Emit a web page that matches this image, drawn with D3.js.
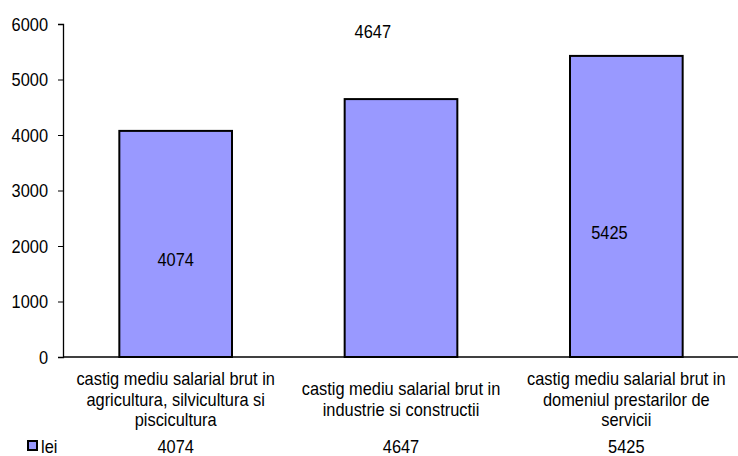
<!DOCTYPE html>
<html>
<head>
<meta charset="utf-8">
<script src="https://cdn.jsdelivr.net/npm/d3@7"></script>
<style>
  body { margin: 0; background: #fff; }
  text { font-family: "Liberation Sans", Arial, sans-serif; font-size: 16.4px; fill: #000; }
</style>
</head>
<body>
<svg id="chart" width="738" height="456"></svg>
<script>
const categories = [
  ["castig mediu salarial brut in", "agricultura, silvicultura si", "piscicultura"],
  ["castig mediu salarial brut in", "industrie si constructii"],
  ["castig mediu salarial brut in", "domeniul prestarilor de", "servicii"]
];
const values = [4074, 4647, 5425];
const seriesName = "lei";
const yTicks = [0, 1000, 2000, 3000, 4000, 5000, 6000];

// where the data labels sit in the original (value units / fraction of band step)
const labelAt = [
  { v: 1766, dx: 0 },
  { v: 5874, dx: -0.125 },
  { v: 2252, dx: -0.075 }
];

const stretch = 1.13; // original text is drawn a bit taller than normal
const svg = d3.select("#chart");
const x0 = 63, x1 = 739, yTop = 24, yBottom = 357;

const x = d3.scaleBand()
  .domain(d3.range(values.length))
  .range([x0, x1])
  .paddingInner(0.5)
  .paddingOuter(0.25);

const y = d3.scaleLinear()
  .domain([0, 6000])
  .range([yBottom, yTop]);

// put a text centred on (px, py), stretched vertically
const label = (g, px, py, str, anchor) => g.append("text")
  .attr("transform", `translate(${px},${py}) scale(1,${stretch})`)
  .attr("dy", "0.36em")
  .attr("text-anchor", anchor || "middle")
  .text(str);

// y axis
const yAxis = d3.axisLeft(y).tickValues(yTicks).tickSize(5).tickFormat("");
const gy = svg.append("g")
  .attr("transform", `translate(${x0},0)`)
  .call(yAxis);
gy.select(".domain").attr("stroke", "#000").attr("stroke-width", 1.3);
gy.selectAll(".tick line").attr("stroke", "#000");
const gyl = svg.append("g");
yTicks.forEach(t => label(gyl, x0 - 15, y(t), d3.format("d")(t), "end"));

// bars
svg.append("g").selectAll("rect")
  .data(values)
  .join("rect")
  .attr("x", (d, i) => x(i))
  .attr("y", d => y(d))
  .attr("width", x.bandwidth())
  .attr("height", d => y(0) - y(d))
  .attr("fill", "#9999FF")
  .attr("stroke", "#000")
  .attr("stroke-width", 2);

// x axis line
svg.append("line")
  .attr("x1", x0).attr("x2", 738)
  .attr("y1", yBottom).attr("y2", yBottom)
  .attr("stroke", "#000").attr("stroke-width", 1.3);

// data labels
const step = x.step();
const gl = svg.append("g");
values.forEach((d, i) => {
  label(gl, x(i) + x.bandwidth() / 2 + labelAt[i].dx * step, y(labelAt[i].v), d);
});

// category labels
const lineH = 20.5, midY = 399;
const gc = svg.append("g");
categories.forEach((lines, i) => {
  const cx = x(i) + x.bandwidth() / 2;
  lines.forEach((ln, j) => {
    label(gc, cx, midY + (j - (lines.length - 1) / 2) * lineH, ln);
  });
});

// data table row
const rowY = 446;
svg.append("rect")
  .attr("x", 28).attr("y", rowY - 5)
  .attr("width", 9).attr("height", 9)
  .attr("fill", "#9999FF")
  .attr("stroke", "#000")
  .attr("stroke-width", 2);
const gt = svg.append("g");
label(gt, 41, rowY, seriesName, "start");
values.forEach((d, i) => label(gt, x(i) + x.bandwidth() / 2, rowY, d));
</script>
</body>
</html>
